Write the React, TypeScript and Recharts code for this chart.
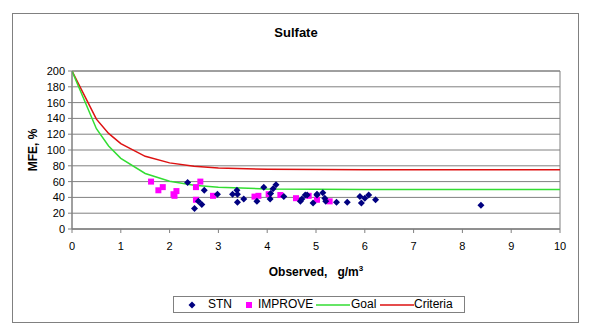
import {
  ComposedChart,
  Line,
  Scatter,
  XAxis,
  YAxis,
  CartesianGrid,
  ReferenceArea,
} from 'recharts';

// STN sites (observed, MFE)
const stnX = [2.37, 2.51, 2.59, 2.66, 2.71, 2.98, 3.29, 3.38, 3.39, 3.39, 3.52, 3.79, 3.93, 4.06, 4.07, 4.12, 4.18, 4.34, 4.68, 4.71, 4.78, 4.82, 4.94, 5.02, 5.02, 5.14, 5.18, 5.2, 5.42, 5.64, 5.9, 5.93, 6.0, 6.08, 6.22, 8.38];
const stnY = [59, 26, 35, 31, 49, 44, 44, 49, 44, 34, 38, 35, 53, 38, 45, 51, 56, 41, 35, 38, 43, 43, 33, 44, 43, 46, 39, 35, 34, 34, 41, 33, 39, 43, 37, 30];

// IMPROVE sites
const improveX = [1.62, 1.77, 1.86, 2.08, 2.1, 2.14, 2.54, 2.54, 2.63, 2.89, 3.74, 3.82, 4.03, 4.27, 4.59, 4.85, 5.02, 5.28];
const improveY = [60, 49, 53, 44, 42, 48, 53, 37, 60, 42, 41, 42, 44, 43, 39, 42, 37, 35];

// performance goal / criteria curves
const curveX = [0, 0.5, 0.75, 1, 1.5, 2, 2.5, 3, 4, 5, 6, 7, 8, 9, 10];
const goalY = [200, 127, 105, 89.5, 70.3, 60.4, 55.4, 52.7, 50.7, 50.2, 50, 50, 50, 50, 50];
const criteriaY = [200, 139, 121, 108, 92, 83.7, 79.5, 77.3, 75.6, 75.2, 75, 75, 75, 75, 75];

const xTicks = [0, 1, 2, 3, 4, 5, 6, 7, 8, 9, 10];
const yTicks = [0, 20, 40, 60, 80, 100, 120, 140, 160, 180, 200];

const stn = stnX.map((x, i) => ({ x, y: stnY[i] }));
const improve = improveX.map((x, i) => ({ x, y: improveY[i] }));
const goal = curveX.map((x, i) => ({ x, y: goalY[i] }));
const criteria = curveX.map((x, i) => ({ x, y: criteriaY[i] }));

const FONT = '"Liberation Sans", Arial, sans-serif';
const NAVY = '#000080';
const MAGENTA = '#FF00FF';
const GREEN = '#33DD33';
const RED = '#DD1111';

const Diamond = (props: any) => {
  const { cx, cy } = props;
  const r = 3.5;
  return <polygon points={`${cx},${cy - r} ${cx + r},${cy} ${cx},${cy + r} ${cx - r},${cy}`} fill={NAVY} />;
};

const Square = (props: any) => {
  const { cx, cy } = props;
  return <rect x={cx - 3} y={cy - 3} width={6} height={6} fill={MAGENTA} />;
};

const tickStyle = { fill: '#000', fontSize: 11, fontFamily: FONT };

export default function App() {
  return (
    <div style={{ position: 'absolute', left: 0, top: 0, width: 592, height: 336, background: '#fff', fontFamily: FONT }}>
      <div style={{ position: 'absolute', left: 12, top: 13, width: 565, height: 308, border: '1px solid #808080' }} />
      <div style={{ position: 'absolute', left: 0, width: 592, top: 25, textAlign: 'center', fontWeight: 'bold', fontSize: 13 }}>
        Sulfate
      </div>
      <div
        style={{
          position: 'absolute',
          left: 33,
          top: 150,
          transform: 'translate(-50%, -50%) rotate(-90deg)',
          fontWeight: 'bold',
          fontSize: 12,
          whiteSpace: 'nowrap',
        }}
      >
        MFE, %
      </div>
      <div style={{ position: 'absolute', left: 72, width: 488, top: 264, textAlign: 'center', fontWeight: 'bold', fontSize: 12, whiteSpace: 'pre' }}>
        Observed,{'   '}g/m<sup style={{ fontSize: 8 }}>3</sup>
      </div>
      <ComposedChart
        width={592}
        height={336}
        margin={{ top: 71, right: 32, bottom: 77, left: 0 }}
        style={{ position: 'absolute', left: 0, top: 0 }}
      >
        <CartesianGrid vertical={false} stroke="#808080" strokeWidth={1} />
        <ReferenceArea x1={0} x2={10} y1={0} y2={200} fill="none" stroke="#808080" strokeWidth={1} fillOpacity={0} ifOverflow="visible" />
        <XAxis
          type="number"
          dataKey="x"
          domain={[0, 10]}
          ticks={xTicks}
          interval={0}
          height={30}
          tickSize={4}
          tickMargin={9}
          stroke="#808080"
          tick={tickStyle}
          allowDataOverflow
        />
        <YAxis
          type="number"
          dataKey="y"
          domain={[0, 200]}
          ticks={yTicks}
          interval={0}
          width={72}
          tickSize={4}
          tickMargin={3}
          stroke="#808080"
          tick={tickStyle}
          allowDataOverflow
        />
        <Line data={criteria} dataKey="y" type="linear" stroke={RED} strokeWidth={1.5} dot={false} isAnimationActive={false} />
        <Line data={goal} dataKey="y" type="linear" stroke={GREEN} strokeWidth={1.5} dot={false} isAnimationActive={false} />
        <Scatter data={improve} dataKey="y" shape={Square} isAnimationActive={false} />
        <Scatter data={stn} dataKey="y" shape={Diamond} isAnimationActive={false} />
      </ComposedChart>
      <div
        style={{
          position: 'absolute',
          left: 173,
          top: 296,
          width: 292,
          height: 17,
          border: '1px solid #808080',
          boxSizing: 'border-box',
          fontSize: 12,
          lineHeight: '15px',
        }}
      >
        <svg width={12} height={12} style={{ position: 'absolute', left: 12, top: 2 }}>
          <polygon points="6,2.5 9.5,6 6,9.5 2.5,6" fill={NAVY} />
        </svg>
        <span style={{ position: 'absolute', left: 34 }}>STN</span>
        <svg width={12} height={12} style={{ position: 'absolute', left: 69, top: 2 }}>
          <rect x={3} y={3} width={6} height={6} fill={MAGENTA} />
        </svg>
        <span style={{ position: 'absolute', left: 84 }}>IMPROVE</span>
        <svg width={34} height={12} style={{ position: 'absolute', left: 142, top: 2 }}>
          <line x1={0} y1={6} x2={34} y2={6} stroke={GREEN} strokeWidth={1.5} />
        </svg>
        <span style={{ position: 'absolute', left: 177 }}>Goal</span>
        <svg width={34} height={12} style={{ position: 'absolute', left: 206, top: 2 }}>
          <line x1={0} y1={6} x2={34} y2={6} stroke={RED} strokeWidth={1.5} />
        </svg>
        <span style={{ position: 'absolute', left: 240 }}>Criteria</span>
      </div>
    </div>
  );
}
